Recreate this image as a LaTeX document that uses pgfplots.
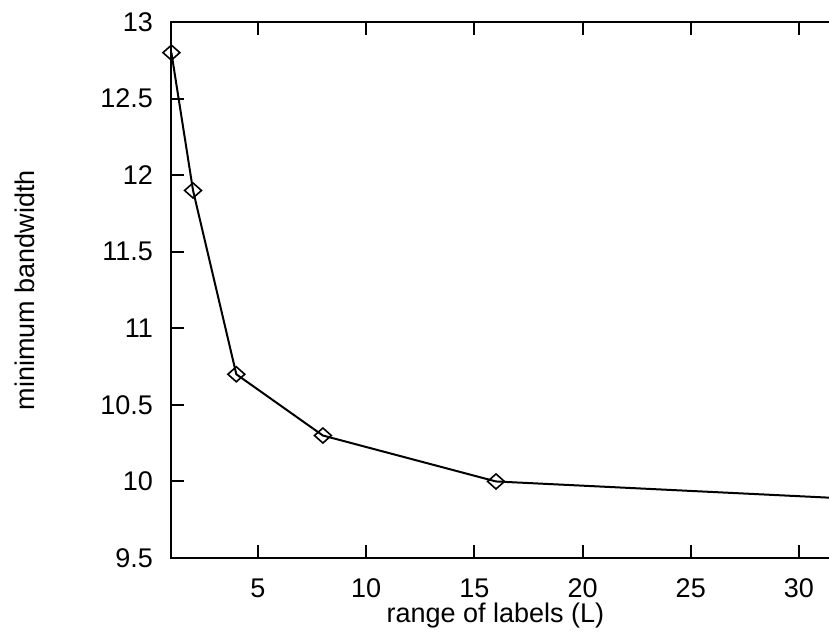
\documentclass[border=0pt]{standalone}
\usepackage{pgfplots}
\pgfplotsset{compat=1.18}
\usepackage{fontspec}
\setmainfont{Liberation Sans}
\begin{document}
\begin{tikzpicture}
\begin{axis}[
  scale only axis,
  width=335.4pt, height=268pt,
  xmin=1, xmax=32, ymin=9.5, ymax=13,
  xtick={5,10,15,20,25,30},
  ytick={9.5,10,10.5,11,11.5,12,12.5,13},
  yticklabels={9.5,10,10.5,11,11.5,12,12.5,13},
  tick align=inside,
  major tick length=6.5pt,
  tick style={black, line width=1pt},
  axis line style={black, line width=1pt},
  /pgf/number format/assume math mode=true,
  tick label style={font=\fontsize{13.5}{16}\selectfont, inner sep=0pt},
  yticklabel style={anchor=east, xshift=-9pt},
  xticklabel style={anchor=north, yshift=-10pt},
  xlabel={range of labels (L)},
  ylabel={minimum bandwidth},
  label style={font=\fontsize{13.5}{16}\selectfont, inner sep=0pt},
  xlabel style={at={(axis description cs:0.483,-0.0821)}, anchor=north},
  ylabel style={at={(axis description cs:-0.2027,0.5)}, anchor=south, rotate=0},
  clip=false,
]
\addplot[black, line width=1pt, mark=diamond, mark size=3.75pt,
  mark options={xscale=1.5, fill=white, line width=0.8pt}]
  coordinates {(1,12.8) (2,11.9) (4,10.7) (8,10.3) (16,10.0) (32,9.89)};
\coordinate (BL) at (axis cs:-6.921,8.997);
\coordinate (TR) at (axis cs:31.388,13.1437);
\end{axis}
\pgfresetboundingbox
\path[use as bounding box] (BL) rectangle (TR);
\end{tikzpicture}
\end{document}
